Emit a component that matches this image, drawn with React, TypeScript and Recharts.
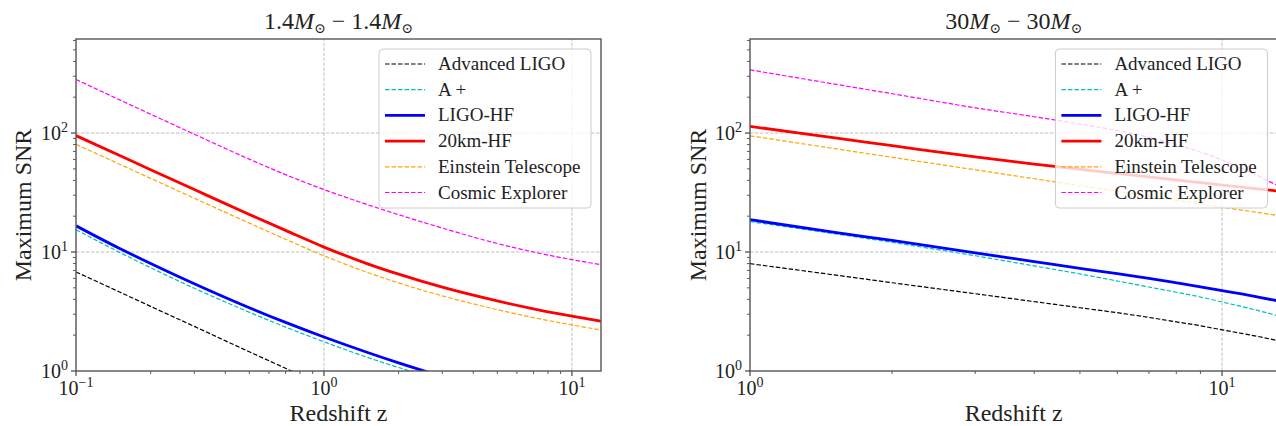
import React from 'react'
import { LineChart, Line, XAxis, YAxis, ReferenceLine } from 'recharts'

const FONT = "'Liberation Serif', 'DejaVu Serif', serif"

const names = ['Advanced LIGO', 'A +', 'LIGO-HF', '20km-HF', 'Einstein Telescope', 'Cosmic Explorer']

// 1.4 - 1.4 Msun
const bnsZ = [0.1, 0.15, 0.2, 0.3, 0.5, 0.7, 1, 1.5, 2, 3, 5, 7, 10, 13.1]
const bnsAligo = [6.8, 4.61, 3.49, 2.37, 1.45, 1.054, 0.75, 0.51, 0.39, 0.27, 0.17, 0.12, 0.088, 0.068]
const bnsAplus = [15.4, 9.93, 7.38, 4.96, 3.12, 2.34, 1.76, 1.3, 1.07, 0.82, 0.62, 0.51, 0.44, 0.4]
const bnsLigoHf = [16.6, 10.7, 8.01, 5.41, 3.4, 2.56, 1.93, 1.43, 1.17, 0.9, 0.67, 0.565, 0.48, 0.43]
const bns20km = [95.1, 64.7, 49.2, 33.5, 20.7, 15.2, 11.0, 7.96, 6.51, 5.06, 3.88, 3.33, 2.89, 2.62]
const bnsEt = [80.4, 54.7, 41.6, 28.3, 17.5, 12.8, 9.3, 6.73, 5.5, 4.28, 3.28, 2.81, 2.44, 2.21]
const bnsCe = [282, 190, 144, 97.7, 60.3, 44.7, 33.5, 25.0, 20.6, 15.9, 11.8, 10.0, 8.63, 7.83]

// 30 - 30 Msun
const bbhZ = [1, 1.5, 2, 3, 4, 5, 6, 7, 8, 9, 10, 11, 12, 13.1]
const bbhAligo = [7.98, 6.44, 5.52, 4.46, 3.83, 3.4, 3.09, 2.82, 2.59, 2.4, 2.22, 2.07, 1.94, 1.8]
const bbhAplus = [18.0, 14.3, 12.05, 9.3, 7.64, 6.54, 5.71, 5.08, 4.59, 4.19, 3.8, 3.48, 3.2, 2.92]
const bbhLigoHf = [18.7, 14.7, 12.5, 9.84, 8.32, 7.3, 6.57, 6.0, 5.51, 5.1, 4.74, 4.44, 4.16, 3.89]
const bbh20km = [113.7, 91.4, 78.3, 63, 54.7, 49.6, 45.7, 42.8, 40.3, 38.3, 36.5, 35.1, 33.8, 32.6]
const bbhEt = [94.8, 74.3, 62.5, 49.1, 41.3, 36.1, 32.4, 29.5, 27.2, 25.4, 23.8, 22.5, 21.4, 20.3]
const bbhCe = [340, 259, 214, 163, 137, 119, 105, 92.2, 80.2, 69.2, 59.3, 50.7, 43.1, 36.2]

const yTicks = [1, 2, 3, 4, 5, 6, 7, 8, 9, 10, 20, 30, 40, 50, 60, 70, 80, 90, 100, 200, 300, 400, 500, 600]
const bnsXTicks = [0.1, 0.2, 0.3, 0.4, 0.5, 0.6, 0.7, 0.8, 0.9, 1, 2, 3, 4, 5, 6, 7, 8, 9, 10]
const bbhXTicks = [1, 2, 3, 4, 5, 6, 7, 8, 9, 10]

const styles = [
  { color: '#000000', width: 1.2, dash: '4.5 2' },
  { color: '#00bfbf', width: 1.2, dash: '4.5 2' },
  { color: '#0000ff', width: 2.8, dash: undefined },
  { color: '#ff0000', width: 2.8, dash: undefined },
  { color: '#ffa500', width: 1.2, dash: '4.5 2' },
  { color: '#ff00ff', width: 1.2, dash: '4.5 2' },
]

const TOP = 39
const BOTTOM = 371
const H = 426

const isMajor = (v: number) => Math.abs(Math.log10(v) - Math.round(Math.log10(v))) < 1e-6
const expText = (v: number) => {
  const e = Math.round(Math.log10(v))
  return e < 0 ? `\u2212${-e}` : `${e}`
}

function XTick({ x, y, payload }: any) {
  const v = payload.value
  const major = isMajor(v)
  return (
    <g>
      <line x1={x} x2={x} y1={y} y2={y + (major ? 5 : 3)} stroke="#333" strokeWidth={major ? 1.1 : 0.8} />
      {major && (
        <text x={x} y={y + 24} textAnchor="middle" fontSize={20} fontFamily={FONT} fill="#222">
          10<tspan dy={-8} fontSize={14}>{expText(v)}</tspan>
        </text>
      )}
    </g>
  )
}

function YTick({ x, y, payload }: any) {
  const v = payload.value
  const major = isMajor(v)
  return (
    <g>
      <line x1={x - (major ? 5 : 3)} x2={x} y1={y} y2={y} stroke="#333" strokeWidth={major ? 1.1 : 0.8} />
      {major && (
        <text x={x - 8} y={y + 7} textAnchor="end" fontSize={20} fontFamily={FONT} fill="#222">
          10<tspan dy={-8} fontSize={14}>{expText(v)}</tspan>
        </text>
      )}
    </g>
  )
}

interface PanelProps {
  z: number[]
  series: number[][]
  xDomain: [number, number]
  xTicks: number[]
  xGrid: number[]
  width: number
  left: number
  right: number
}

function Panel({ z, series, xDomain, xTicks, xGrid, width, left, right }: PanelProps) {
  return (
    <LineChart width={width} height={H} margin={{ top: TOP, right, bottom: H - BOTTOM - 1, left: left - 1 }}>
      <XAxis
        dataKey="z"
        type="number"
        scale="log"
        domain={xDomain}
        allowDataOverflow
        ticks={xTicks}
        interval={0}
        height={1}
        tickSize={0}
        tickMargin={0}
        axisLine={false}
        tickLine={false}
        tick={<XTick />}
      />
      <YAxis
        type="number"
        scale="log"
        domain={[1, 617]}
        allowDataOverflow
        ticks={yTicks}
        interval={0}
        width={1}
        tickSize={0}
        tickMargin={0}
        axisLine={false}
        tickLine={false}
        tick={<YTick />}
      />
      {xGrid.map((g) => (
        <ReferenceLine key={'x' + g} x={g} stroke="#b8b8b8" strokeDasharray="3.5 1.5" strokeWidth={0.9} />
      ))}
      {[10, 100].map((g) => (
        <ReferenceLine key={'y' + g} y={g} stroke="#b8b8b8" strokeDasharray="3.5 1.5" strokeWidth={0.9} />
      ))}
      {series.map((vals, i) => (
        <Line
          key={names[i]}
          data={z.map((zz, j) => ({ z: zz, snr: vals[j] }))}
          dataKey="snr"
          name={names[i]}
          type="monotone"
          stroke={styles[i].color}
          strokeWidth={styles[i].width}
          strokeDasharray={styles[i].dash}
          dot={false}
          activeDot={false}
          isAnimationActive={false}
        />
      ))}
    </LineChart>
  )
}

function LegendBox({ x, y }: { x: number; y: number }) {
  return (
    <g>
      <rect x={x} y={y} width={212} height={159} rx={4} fill="#fff" fillOpacity={0.8} stroke="#cccccc" strokeWidth={1} />
      {names.map((n, i) => {
        const cy = y + 15 + i * 25.7
        return (
          <g key={n}>
            <line x1={x + 6} x2={x + 46} y1={cy} y2={cy} stroke={styles[i].color} strokeWidth={styles[i].width} strokeDasharray={styles[i].dash} />
            <text x={x + 59} y={cy + 6} fontSize={19} fontFamily={FONT} fill="#222">{n}</text>
          </g>
        )
      })}
    </g>
  )
}

function Title({ x, mass }: { x: number; mass: string }) {
  return (
    <text x={x} y={29} textAnchor="middle" fontSize={24} fontFamily={FONT} fill="#222">
      {mass}
      <tspan fontStyle="italic">M</tspan>
      <tspan dy={4} fontSize={14}>{'\u2299'}</tspan>
      <tspan dy={-4}>{` \u2212 ${mass}`}</tspan>
      <tspan fontStyle="italic">M</tspan>
      <tspan dy={4} fontSize={14}>{'\u2299'}</tspan>
    </text>
  )
}

export default function App() {
  const lx0 = 76
  const lx1 = 601
  const rx0 = 750
  const rx1 = 1277.4
  return (
    <div style={{ position: 'absolute', left: 0, top: 0, width: 1276, height: H, overflow: 'hidden', background: '#fff' }}>
      <div style={{ position: 'absolute', left: 0, top: 0 }}>
        <Panel
          z={bnsZ}
          series={[bnsAligo, bnsAplus, bnsLigoHf, bns20km, bnsEt, bnsCe]}
          xDomain={[0.1, 13.1]}
          xTicks={bnsXTicks}
          xGrid={[1, 10]}
          width={620}
          left={lx0}
          right={620 - lx1}
        />
      </div>
      <div style={{ position: 'absolute', left: 640, top: 0 }}>
        <Panel
          z={bbhZ}
          series={[bbhAligo, bbhAplus, bbhLigoHf, bbh20km, bbhEt, bbhCe]}
          xDomain={[1, 13.1]}
          xTicks={bbhXTicks}
          xGrid={[10]}
          width={660}
          left={rx0 - 640}
          right={660 - (rx1 - 640)}
        />
      </div>
      <svg width={1276} height={H} style={{ position: 'absolute', left: 0, top: 0, pointerEvents: 'none' }}>
        <rect x={lx0} y={TOP} width={lx1 - lx0} height={BOTTOM - TOP} fill="none" stroke="#555" strokeWidth={1.4} />
        <rect x={rx0} y={TOP} width={rx1 - rx0} height={BOTTOM - TOP} fill="none" stroke="#555" strokeWidth={1.4} />
        <Title x={(lx0 + lx1) / 2} mass="1.4" />
        <Title x={(rx0 + rx1) / 2} mass="30" />
        <text x={(lx0 + lx1) / 2} y={421} textAnchor="middle" fontSize={24} fontFamily={FONT} fill="#222">Redshift z</text>
        <text x={(rx0 + rx1) / 2} y={421} textAnchor="middle" fontSize={24} fontFamily={FONT} fill="#222">Redshift z</text>
        <text x={30.5} y={205} transform="rotate(-90 30.5 205)" textAnchor="middle" fontSize={24} fontFamily={FONT} fill="#222">Maximum SNR</text>
        <text x={706} y={205} transform="rotate(-90 706 205)" textAnchor="middle" fontSize={24} fontFamily={FONT} fill="#222">Maximum SNR</text>
        <LegendBox x={lx1 - 222} y={49} />
        <LegendBox x={rx1 - 222} y={49} />
      </svg>
    </div>
  )
}
